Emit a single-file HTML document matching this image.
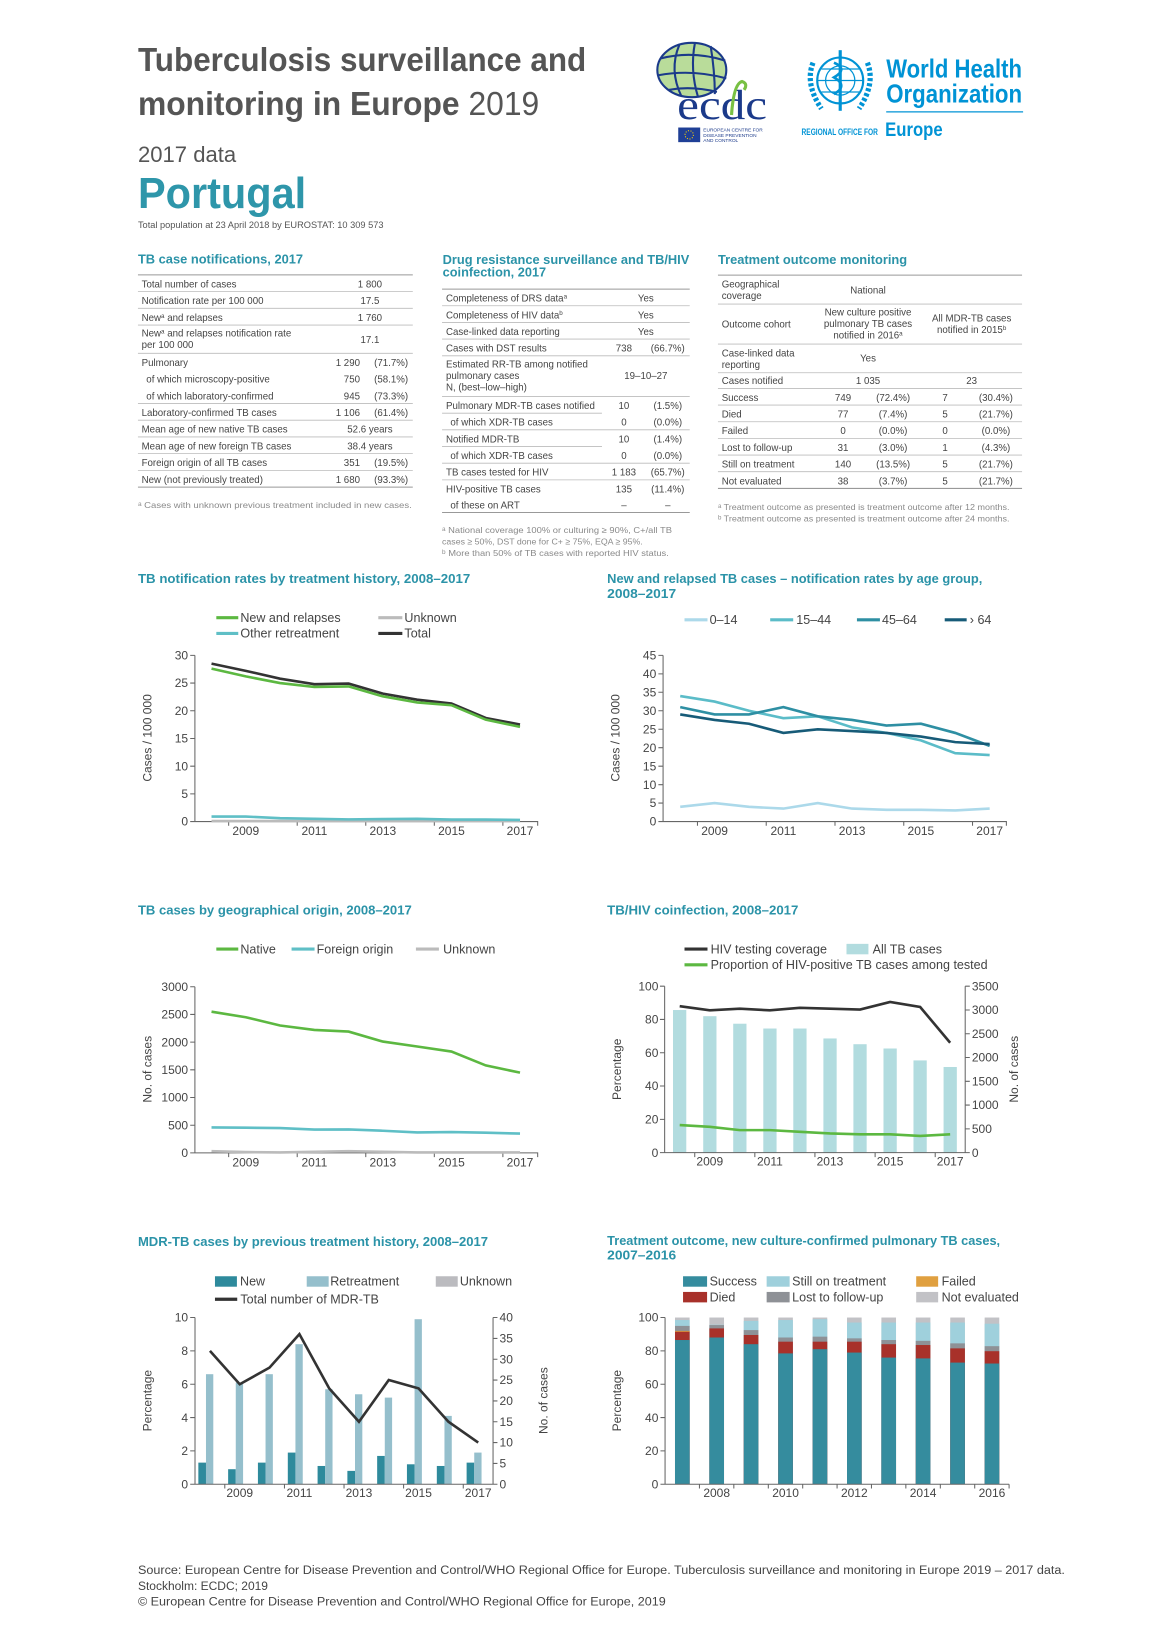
<!DOCTYPE html>
<html><head><meta charset="utf-8"><style>
html,body{margin:0;padding:0;background:#fff;width:1160px;height:1640px;overflow:hidden}
svg{display:block;font-family:"Liberation Sans",sans-serif}
.t{fill:#2b93a8;font-weight:bold;font-size:12.5px}
.tb{font-size:9.3px;fill:#444}
.fn{font-size:8.3px;fill:#8a8a8a}
.lg{font-size:12px;fill:#444}
.tk{font-size:11.5px;fill:#444}
.ax{stroke:#666;stroke-width:1;fill:none}
.hl{stroke:#bbb;stroke-width:0.8}
.hl2{stroke:#999;stroke-width:1}
</style></head><body>
<svg width="1160" height="1640" viewBox="0 0 1110 1569" preserveAspectRatio="none">
<!-- Header -->
<text x="132" y="68" font-size="32" font-weight="bold" fill="#555" textLength="429" lengthAdjust="spacingAndGlyphs">Tuberculosis surveillance and</text>
<text x="132" y="110" font-size="32" fill="#555" textLength="384" lengthAdjust="spacingAndGlyphs"><tspan font-weight="bold">monitoring in Europe</tspan> 2019</text>
<text x="132" y="155" font-size="21" fill="#555" textLength="94" lengthAdjust="spacingAndGlyphs">2017 data</text>
<text x="132" y="199" font-size="42" font-weight="bold" fill="#2e96aa" textLength="161" lengthAdjust="spacingAndGlyphs">Portugal</text>
<text x="132" y="218" font-size="9" fill="#555" textLength="235" lengthAdjust="spacingAndGlyphs">Total population at 23 April 2018 by EUROSTAT: 10 309 573</text>

<!-- ECDC logo -->
<ellipse cx="662" cy="67" rx="33" ry="26" fill="#b9dc9a" stroke="#1b3a8a" stroke-width="2"/>
<path d="M632 56 Q662 48 694 58 M630 72 Q662 66 695 75 M640 86 Q662 82 686 88 M650 43 Q640 67 652 92 M665 41 Q660 67 668 93 M680 44 Q684 68 684 90" stroke="#1b3a8a" stroke-width="2" fill="none"/>
<text x="648" y="114" font-family="Liberation Serif,serif" font-size="40" fill="#1b3a8a" textLength="86" lengthAdjust="spacingAndGlyphs">ecdc</text>
<path d="M700 110 Q702 80 710 78 Q716 80 712 86" stroke="#78c043" stroke-width="3" fill="none"/>
<rect x="649" y="122" width="21" height="14" fill="#1f3f96"/>
<circle cx="659.5" cy="129" r="4" fill="none" stroke="#ffd400" stroke-width="1" stroke-dasharray="1 1.5"/>
<text x="673" y="126" font-size="4.6" fill="#1b3a8a">EUROPEAN CENTRE FOR</text>
<text x="673" y="131" font-size="4.6" fill="#1b3a8a">DISEASE PREVENTION</text>
<text x="673" y="136" font-size="4.6" fill="#1b3a8a">AND CONTROL</text>

<!-- WHO logo -->
<g stroke="#0093d5" fill="none">
<circle cx="804" cy="77" r="22" stroke-width="2"/>
<circle cx="804" cy="77" r="14" stroke-width="1.2"/>
<path d="M782 77 H826 M804 55 V99 M786 66 H822 M786 88 H822" stroke-width="1.2"/>
<path d="M778 60 Q770 80 786 104 M830 60 Q838 80 822 104" stroke-width="5" stroke-dasharray="3 2"/>
<path d="M804 48 V106" stroke-width="3"/>
<path d="M798 60 Q812 66 798 74 Q812 82 798 90" stroke-width="2.5"/>
</g>
<text x="848" y="74" font-size="25" font-weight="bold" fill="#0093d5" textLength="130" lengthAdjust="spacingAndGlyphs">World Health</text>
<text x="848" y="98" font-size="25" font-weight="bold" fill="#0093d5" textLength="130" lengthAdjust="spacingAndGlyphs">Organization</text>
<line x1="848" y1="107" x2="979" y2="107" stroke="#0093d5" stroke-width="1.2"/>
<text x="767" y="129" font-size="9" font-weight="bold" fill="#0093d5" textLength="73" lengthAdjust="spacingAndGlyphs">REGIONAL OFFICE FOR</text>
<text x="847" y="130" font-size="19" font-weight="bold" fill="#0093d5" textLength="55" lengthAdjust="spacingAndGlyphs">Europe</text>

<!-- Table 1 -->
<text class="t" x="132" y="252" textLength="158" lengthAdjust="spacingAndGlyphs">TB case notifications, 2017</text>
<g>
<line class="hl2" x1="132" y1="263" x2="395" y2="263"/>
<line class="hl" x1="132" y1="279" x2="395" y2="279"/><line class="hl" x1="132" y1="295" x2="395" y2="295"/><line class="hl" x1="132" y1="311" x2="395" y2="311"/><line class="hl" x1="132" y1="338" x2="395" y2="338"/><line class="hl" x1="132" y1="386" x2="395" y2="386"/><line class="hl" x1="132" y1="402" x2="395" y2="402"/><line class="hl" x1="132" y1="418" x2="395" y2="418"/><line class="hl" x1="132" y1="434" x2="395" y2="434"/><line class="hl" x1="132" y1="450" x2="395" y2="450"/><line class="hl2" x1="132" y1="466" x2="395" y2="466"/>
<text class="tb" x="135.5" y="275">Total number of cases</text><text class="tb" x="354" y="275" text-anchor="middle">1 800</text>
<text class="tb" x="135.5" y="291">Notification rate per 100 000</text><text class="tb" x="354" y="291" text-anchor="middle">17.5</text>
<text class="tb" x="135.5" y="307">New<tspan font-size="6" dy="-3">a</tspan><tspan dy="3"> and relapses</tspan></text><text class="tb" x="354" y="307" text-anchor="middle">1 760</text>
<text class="tb" x="135.5" y="322">New<tspan font-size="6" dy="-3">a</tspan><tspan dy="3"> and relapses notification rate</tspan></text><text class="tb" x="135.5" y="333">per 100 000</text><text class="tb" x="354" y="328" text-anchor="middle">17.1</text>
<text class="tb" x="135.5" y="350">Pulmonary</text><text class="tb" x="344.5" y="350" text-anchor="end">1 290</text><text class="tb" x="390.5" y="350" text-anchor="end">(71.7%)</text>
<text class="tb" x="140" y="366">of which microscopy-positive</text><text class="tb" x="344.5" y="366" text-anchor="end">750</text><text class="tb" x="390.5" y="366" text-anchor="end">(58.1%)</text>
<text class="tb" x="140" y="382">of which laboratory-confirmed</text><text class="tb" x="344.5" y="382" text-anchor="end">945</text><text class="tb" x="390.5" y="382" text-anchor="end">(73.3%)</text>
<text class="tb" x="135.5" y="398">Laboratory-confirmed TB cases</text><text class="tb" x="344.5" y="398" text-anchor="end">1 106</text><text class="tb" x="390.5" y="398" text-anchor="end">(61.4%)</text>
<text class="tb" x="135.5" y="414">Mean age of new native TB cases</text><text class="tb" x="354" y="414" text-anchor="middle">52.6 years</text>
<text class="tb" x="135.5" y="430">Mean age of new foreign TB cases</text><text class="tb" x="354" y="430" text-anchor="middle">38.4 years</text>
<text class="tb" x="135.5" y="446">Foreign origin of all TB cases</text><text class="tb" x="344.5" y="446" text-anchor="end">351</text><text class="tb" x="390.5" y="446" text-anchor="end">(19.5%)</text>
<text class="tb" x="135.5" y="462">New (not previously treated)</text><text class="tb" x="344.5" y="462" text-anchor="end">1 680</text><text class="tb" x="390.5" y="462" text-anchor="end">(93.3%)</text>
<text class="fn" x="132" y="486" textLength="262" lengthAdjust="spacingAndGlyphs">ᵃ Cases with unknown previous treatment included in new cases.</text>
</g>

<!-- Table 2 -->
<text class="t" x="423.6" y="252.6" textLength="236" lengthAdjust="spacingAndGlyphs">Drug resistance surveillance and TB/HIV</text>
<text class="t" x="423.6" y="264.7" textLength="99" lengthAdjust="spacingAndGlyphs">coinfection, 2017</text>
<g>
<line class="hl2" x1="423" y1="276.6" x2="660" y2="276.6"/>
<line class="hl" x1="423" y1="292.5" x2="660" y2="292.5"/><line class="hl" x1="423" y1="308.5" x2="660" y2="308.5"/><line class="hl" x1="423" y1="324.4" x2="660" y2="324.4"/><line class="hl" x1="423" y1="340.4" x2="660" y2="340.4"/><line class="hl" x1="423" y1="379.3" x2="660" y2="379.3"/><line class="hl" x1="423" y1="395.3" x2="576" y2="395.3"/><line class="hl" x1="423" y1="411.2" x2="660" y2="411.2"/><line class="hl" x1="423" y1="427.2" x2="576" y2="427.2"/><line class="hl" x1="423" y1="443.1" x2="660" y2="443.1"/><line class="hl" x1="423" y1="459.1" x2="660" y2="459.1"/><line class="hl2" x1="423" y1="490.3" x2="660" y2="490.3"/>
<text class="tb" x="426.8" y="288.5">Completeness of DRS data<tspan font-size="6" dy="-3">a</tspan></text><text class="tb" x="618" y="288.5" text-anchor="middle">Yes</text>
<text class="tb" x="426.8" y="304.5">Completeness of HIV data<tspan font-size="6" dy="-3">b</tspan></text><text class="tb" x="618" y="304.5" text-anchor="middle">Yes</text>
<text class="tb" x="426.8" y="320.4">Case-linked data reporting</text><text class="tb" x="618" y="320.4" text-anchor="middle">Yes</text>
<text class="tb" x="426.8" y="336.4">Cases with DST results</text><text class="tb" x="597" y="336.4" text-anchor="middle">738</text><text class="tb" x="639" y="336.4" text-anchor="middle">(66.7%)</text>
<text class="tb" x="426.8" y="351.5">Estimated RR-TB among notified</text><text class="tb" x="426.8" y="362.5">pulmonary cases</text><text class="tb" x="426.8" y="373.5">N, (best–low–high)</text><text class="tb" x="618" y="362.5" text-anchor="middle">19–10–27</text>
<text class="tb" x="426.8" y="391.3">Pulmonary MDR-TB cases notified</text><text class="tb" x="597" y="391.3" text-anchor="middle">10</text><text class="tb" x="639" y="391.3" text-anchor="middle">(1.5%)</text>
<text class="tb" x="431" y="407.2">of which XDR-TB cases</text><text class="tb" x="597" y="407.2" text-anchor="middle">0</text><text class="tb" x="639" y="407.2" text-anchor="middle">(0.0%)</text>
<text class="tb" x="426.8" y="423.2">Notified MDR-TB</text><text class="tb" x="597" y="423.2" text-anchor="middle">10</text><text class="tb" x="639" y="423.2" text-anchor="middle">(1.4%)</text>
<text class="tb" x="431" y="439.1">of which XDR-TB cases</text><text class="tb" x="597" y="439.1" text-anchor="middle">0</text><text class="tb" x="639" y="439.1" text-anchor="middle">(0.0%)</text>
<text class="tb" x="426.8" y="455.1">TB cases tested for HIV</text><text class="tb" x="597" y="455.1" text-anchor="middle">1 183</text><text class="tb" x="639" y="455.1" text-anchor="middle">(65.7%)</text>
<text class="tb" x="426.8" y="471">HIV-positive TB cases</text><text class="tb" x="597" y="471" text-anchor="middle">135</text><text class="tb" x="639" y="471" text-anchor="middle">(11.4%)</text>
<text class="tb" x="431" y="486.5">of these on ART</text><text class="tb" x="597" y="486.5" text-anchor="middle">–</text><text class="tb" x="639" y="486.5" text-anchor="middle">–</text>
<text class="fn" x="423" y="510" textLength="220" lengthAdjust="spacingAndGlyphs">ᵃ National coverage 100% or culturing ≥ 90%, C+/all TB</text>
<text class="fn" x="423" y="521" textLength="192" lengthAdjust="spacingAndGlyphs">cases ≥ 50%, DST done for C+ ≥ 75%, EQA ≥ 95%.</text>
<text class="fn" x="423" y="532" textLength="217" lengthAdjust="spacingAndGlyphs">ᵇ More than 50% of TB cases with reported HIV status.</text>
</g>

<!-- Table 3 -->
<text class="t" x="687" y="252.6" textLength="181" lengthAdjust="spacingAndGlyphs">Treatment outcome monitoring</text>
<g>
<line class="hl2" x1="687" y1="263.2" x2="978" y2="263.2"/>
<line class="hl" x1="687" y1="290.9" x2="978" y2="290.9"/><line class="hl" x1="687" y1="329.2" x2="978" y2="329.2"/><line class="hl" x1="687" y1="356.6" x2="978" y2="356.6"/><line class="hl" x1="687" y1="371.6" x2="978" y2="371.6"/><line class="hl" x1="687" y1="387.5" x2="978" y2="387.5"/><line class="hl" x1="687" y1="403.5" x2="978" y2="403.5"/><line class="hl" x1="687" y1="419.4" x2="978" y2="419.4"/><line class="hl" x1="687" y1="435.4" x2="978" y2="435.4"/><line class="hl" x1="687" y1="451.3" x2="978" y2="451.3"/><line class="hl2" x1="687" y1="467.3" x2="978" y2="467.3"/>
<text class="tb" x="690.6" y="275">Geographical</text><text class="tb" x="690.6" y="286">coverage</text><text class="tb" x="830.6" y="281" text-anchor="middle">National</text>
<text class="tb" x="690.6" y="313.5">Outcome cohort</text>
<text class="tb" x="830.6" y="302" text-anchor="middle">New culture positive</text><text class="tb" x="830.6" y="313" text-anchor="middle">pulmonary TB cases</text><text class="tb" x="830.6" y="324" text-anchor="middle">notified in 2016<tspan font-size="6" dy="-3">a</tspan></text>
<text class="tb" x="929.8" y="307.5" text-anchor="middle">All MDR-TB cases</text><text class="tb" x="929.8" y="318.5" text-anchor="middle">notified in 2015<tspan font-size="6" dy="-3">b</tspan></text>
<text class="tb" x="690.6" y="341">Case-linked data</text><text class="tb" x="690.6" y="352">reporting</text><text class="tb" x="830.6" y="346" text-anchor="middle">Yes</text>
<text class="tb" x="690.6" y="367.5">Cases notified</text><text class="tb" x="830.6" y="367.5" text-anchor="middle">1 035</text><text class="tb" x="929.8" y="367.5" text-anchor="middle">23</text>
<text class="tb" x="690.6" y="383.5">Success</text><text class="tb" x="806.7" y="383.5" text-anchor="middle">749</text><text class="tb" x="854.6" y="383.5" text-anchor="middle">(72.4%)</text><text class="tb" x="904.3" y="383.5" text-anchor="middle">7</text><text class="tb" x="953" y="383.5" text-anchor="middle">(30.4%)</text>
<text class="tb" x="690.6" y="399.5">Died</text><text class="tb" x="806.7" y="399.5" text-anchor="middle">77</text><text class="tb" x="854.6" y="399.5" text-anchor="middle">(7.4%)</text><text class="tb" x="904.3" y="399.5" text-anchor="middle">5</text><text class="tb" x="953" y="399.5" text-anchor="middle">(21.7%)</text>
<text class="tb" x="690.6" y="415.4">Failed</text><text class="tb" x="806.7" y="415.4" text-anchor="middle">0</text><text class="tb" x="854.6" y="415.4" text-anchor="middle">(0.0%)</text><text class="tb" x="904.3" y="415.4" text-anchor="middle">0</text><text class="tb" x="953" y="415.4" text-anchor="middle">(0.0%)</text>
<text class="tb" x="690.6" y="431.4">Lost to follow-up</text><text class="tb" x="806.7" y="431.4" text-anchor="middle">31</text><text class="tb" x="854.6" y="431.4" text-anchor="middle">(3.0%)</text><text class="tb" x="904.3" y="431.4" text-anchor="middle">1</text><text class="tb" x="953" y="431.4" text-anchor="middle">(4.3%)</text>
<text class="tb" x="690.6" y="447.3">Still on treatment</text><text class="tb" x="806.7" y="447.3" text-anchor="middle">140</text><text class="tb" x="854.6" y="447.3" text-anchor="middle">(13.5%)</text><text class="tb" x="904.3" y="447.3" text-anchor="middle">5</text><text class="tb" x="953" y="447.3" text-anchor="middle">(21.7%)</text>
<text class="tb" x="690.6" y="463.3">Not evaluated</text><text class="tb" x="806.7" y="463.3" text-anchor="middle">38</text><text class="tb" x="854.6" y="463.3" text-anchor="middle">(3.7%)</text><text class="tb" x="904.3" y="463.3" text-anchor="middle">5</text><text class="tb" x="953" y="463.3" text-anchor="middle">(21.7%)</text>
<text class="fn" x="687" y="488" textLength="279" lengthAdjust="spacingAndGlyphs">ᵃ Treatment outcome as presented is treatment outcome after 12 months.</text>
<text class="fn" x="687" y="499" textLength="279" lengthAdjust="spacingAndGlyphs">ᵇ Treatment outcome as presented is treatment outcome after 24 months.</text>
</g>

<!-- Chart 1 -->
<text class="t" x="132" y="558" textLength="318" lengthAdjust="spacingAndGlyphs">TB notification rates by treatment history, 2008–2017</text>
<line x1="207" y1="591" x2="228" y2="591" stroke="#5cb841" stroke-width="3"/><text class="lg" x="230" y="595">New and relapses</text>
<line x1="362" y1="591" x2="385" y2="591" stroke="#bbb" stroke-width="3"/><text class="lg" x="387" y="595">Unknown</text>
<line x1="207" y1="606" x2="228" y2="606" stroke="#5fbfc6" stroke-width="3"/><text class="lg" x="230" y="610">Other retreatment</text>
<line x1="362" y1="606" x2="385" y2="606" stroke="#333" stroke-width="3"/><text class="lg" x="387" y="610">Total</text>
<path class="ax" d="M186.5 627 V786 H515 M182 627 H186.5 M182 653.5 H186.5 M182 680 H186.5 M182 706.5 H186.5 M182 733 H186.5 M182 759.5 H186.5 M182 786 H186.5 M218.8 786 V790 M284.4 786 V790 M350 786 V790 M415.6 786 V790 M481.2 786 V790 M514.5 786 V790"/>
<g class="tk" text-anchor="end"><text x="180" y="790">0</text><text x="180" y="763.5">5</text><text x="180" y="737">10</text><text x="180" y="710.5">15</text><text x="180" y="684">20</text><text x="180" y="657.5">25</text><text x="180" y="631">30</text></g>
<g class="tk" text-anchor="middle"><text x="235.2" y="799">2009</text><text x="300.8" y="799">2011</text><text x="366.4" y="799">2013</text><text x="432" y="799">2015</text><text x="497.6" y="799">2017</text></g>
<text class="tk" transform="translate(145,706) rotate(-90)" text-anchor="middle">Cases / 100 000</text>
<polyline fill="none" stroke="#bbb" stroke-width="2.5" points="202.4,785.5 497.6,785.5"/>
<polyline fill="none" stroke="#5fbfc6" stroke-width="2.5" points="202.4,781.2 235.2,781.2 268,782.8 300.8,783.4 333.6,783.9 366.4,783.6 399.2,783.4 432,784.1 464.8,784.1 497.6,784.4"/>
<polyline fill="none" stroke="#333" stroke-width="2.5" points="202.4,634.9 235.2,641.8 268,649.3 300.8,654.6 333.6,654 366.4,663.6 399.2,669.4 432,673.1 464.8,686.9 497.6,693.2"/>
<polyline fill="none" stroke="#5cb841" stroke-width="2.5" points="202.4,639.7 235.2,647.1 268,653.5 300.8,657.2 333.6,656.7 366.4,666.2 399.2,672 432,674.7 464.8,688.5 497.6,695.4"/>

<!-- Chart 2 -->
<text class="t" x="581" y="558" textLength="359" lengthAdjust="spacingAndGlyphs">New and relapsed TB cases – notification rates by age group,</text>
<text class="t" x="581" y="572" textLength="66" lengthAdjust="spacingAndGlyphs">2008–2017</text>
<line x1="655" y1="593" x2="677" y2="593" stroke="#acd9ea" stroke-width="3"/><text class="lg" x="679" y="597">0–14</text>
<line x1="737" y1="593" x2="759" y2="593" stroke="#5bbcc8" stroke-width="3"/><text class="lg" x="762" y="597">15–44</text>
<line x1="820" y1="593" x2="842" y2="593" stroke="#2e8fa3" stroke-width="3"/><text class="lg" x="844" y="597">45–64</text>
<line x1="904" y1="593" x2="925" y2="593" stroke="#175b78" stroke-width="3"/><text class="lg" x="928" y="597">› 64</text>
<path class="ax" d="M634.5 627 V786 H963.5 M630 627 H634.5 M630 644.7 H634.5 M630 662.3 H634.5 M630 680 H634.5 M630 697.7 H634.5 M630 715.3 H634.5 M630 733 H634.5 M630 750.7 H634.5 M630 768.3 H634.5 M630 786 H634.5 M667.4 786 V790 M733.2 786 V790 M799 786 V790 M864.8 786 V790 M930.6 786 V790 M963 786 V790"/>
<g class="tk" text-anchor="end"><text x="628" y="790">0</text><text x="628" y="772.3">5</text><text x="628" y="754.7">10</text><text x="628" y="737">15</text><text x="628" y="719.3">20</text><text x="628" y="701.7">25</text><text x="628" y="684">30</text><text x="628" y="666.3">35</text><text x="628" y="648.7">40</text><text x="628" y="631">45</text></g>
<g class="tk" text-anchor="middle"><text x="683.8" y="799">2009</text><text x="749.6" y="799">2011</text><text x="815.4" y="799">2013</text><text x="881.2" y="799">2015</text><text x="947" y="799">2017</text></g>
<text class="tk" transform="translate(593,706) rotate(-90)" text-anchor="middle">Cases / 100 000</text>
<polyline fill="none" stroke="#acd9ea" stroke-width="2.5" points="650.9,771.9 683.8,768.3 716.7,771.9 749.6,773.6 782.5,768.3 815.4,773.6 848.3,774.7 881.2,774.7 914.1,775.4 947,773.6"/>
<polyline fill="none" stroke="#5bbcc8" stroke-width="2.5" points="650.9,665.9 683.8,671.2 716.7,680 749.6,687.1 782.5,685.3 815.4,695.9 848.3,701.2 881.2,708.3 914.1,720.6 947,722.4"/>
<polyline fill="none" stroke="#2e8fa3" stroke-width="2.5" points="650.9,676.5 683.8,683.5 716.7,683.5 749.6,676.5 782.5,685.3 815.4,688.8 848.3,694.1 881.2,692.4 914.1,701.2 947,713.6"/>
<polyline fill="none" stroke="#175b78" stroke-width="2.5" points="650.9,683.5 683.8,688.8 716.7,692.4 749.6,701.2 782.5,697.7 815.4,699.4 848.3,701.2 881.2,704.7 914.1,710 947,711.8"/>

<!-- Chart 3 -->
<text class="t" x="132" y="875" textLength="262" lengthAdjust="spacingAndGlyphs">TB cases by geographical origin, 2008–2017</text>
<line x1="207" y1="908" x2="228" y2="908" stroke="#5cb841" stroke-width="3"/><text class="lg" x="230" y="912">Native</text>
<line x1="279" y1="908" x2="301" y2="908" stroke="#5fbfc6" stroke-width="3"/><text class="lg" x="303" y="912">Foreign origin</text>
<line x1="398" y1="908" x2="420" y2="908" stroke="#bbb" stroke-width="3"/><text class="lg" x="424" y="912">Unknown</text>
<path class="ax" d="M186.5 944 V1103 H515 M182 944 H186.5 M182 970.5 H186.5 M182 997 H186.5 M182 1023.5 H186.5 M182 1050 H186.5 M182 1076.5 H186.5 M182 1103 H186.5 M218.8 1103 V1107 M284.4 1103 V1107 M350 1103 V1107 M415.6 1103 V1107 M481.2 1103 V1107 M514.5 1103 V1107"/>
<g class="tk" text-anchor="end"><text x="180" y="1107">0</text><text x="180" y="1080.5">500</text><text x="180" y="1054">1000</text><text x="180" y="1027.5">1500</text><text x="180" y="1001">2000</text><text x="180" y="974.5">2500</text><text x="180" y="948">3000</text></g>
<g class="tk" text-anchor="middle"><text x="235.2" y="1116">2009</text><text x="300.8" y="1116">2011</text><text x="366.4" y="1116">2013</text><text x="432" y="1116">2015</text><text x="497.6" y="1116">2017</text></g>
<text class="tk" transform="translate(145,1023) rotate(-90)" text-anchor="middle">No. of cases</text>
<polyline fill="none" stroke="#bbb" stroke-width="2.5" points="202.4,1101.4 235.2,1102.2 268,1102.5 300.8,1101.9 333.6,1101.4 366.4,1101.9 399.2,1102.5 432,1102.5 464.8,1102.5 497.6,1102.5"/>
<polyline fill="none" stroke="#5fbfc6" stroke-width="2.5" points="202.4,1078.6 235.2,1078.9 268,1079.2 300.8,1080.7 333.6,1080.5 366.4,1081.8 399.2,1083.4 432,1083.1 464.8,1083.7 497.6,1084.5"/>
<polyline fill="none" stroke="#5cb841" stroke-width="2.5" points="202.4,967.9 235.2,973.2 268,981.1 300.8,985.3 333.6,986.9 366.4,996.5 399.2,1001.2 432,1006 464.8,1019.3 497.6,1026.2"/>

<!-- Chart 4 -->
<text class="t" x="581" y="875" textLength="183" lengthAdjust="spacingAndGlyphs">TB/HIV coinfection, 2008–2017</text>
<line x1="655" y1="908" x2="677" y2="908" stroke="#333" stroke-width="3"/><text class="lg" x="680" y="912">HIV testing coverage</text>
<rect x="810" y="903" width="21" height="10" fill="#b2dcdf"/><text class="lg" x="835" y="912">All TB cases</text>
<line x1="655" y1="923" x2="677" y2="923" stroke="#5cb841" stroke-width="3"/><text class="lg" x="680" y="927">Proportion of HIV-positive TB cases among tested</text>
<g fill="#b2dcdf">
<rect x="644" y="966.3" width="12.7" height="136.4"/><rect x="672.9" y="972.2" width="12.7" height="130.5"/><rect x="701.6" y="979.4" width="12.7" height="123.3"/><rect x="730.4" y="984" width="12.7" height="118.7"/><rect x="759.1" y="984" width="12.7" height="118.7"/><rect x="787.9" y="993.5" width="12.7" height="109.2"/><rect x="816.6" y="999" width="12.7" height="103.7"/><rect x="845.4" y="1003.1" width="12.7" height="99.6"/><rect x="874.1" y="1014.5" width="12.7" height="88.2"/><rect x="902.9" y="1020.8" width="12.7" height="81.9"/>
</g>
<path class="ax" d="M636 943.5 V1102.7 H923.6 V943.5 M631.5 943.5 H636 M631.5 975.3 H636 M631.5 1007.2 H636 M631.5 1039 H636 M631.5 1070.9 H636 M631.5 1102.7 H636 M923.6 943.5 H928 M923.6 966.3 H928 M923.6 989 H928 M923.6 1011.7 H928 M923.6 1034.5 H928 M923.6 1057.2 H928 M923.6 1080 H928 M923.6 1102.7 H928 M664.8 1102.7 V1107 M722.3 1102.7 V1107 M779.8 1102.7 V1107 M837.4 1102.7 V1107 M894.9 1102.7 V1107"/>
<g class="tk" text-anchor="end"><text x="630" y="1106.7">0</text><text x="630" y="1074.9">20</text><text x="630" y="1043">40</text><text x="630" y="1011.2">60</text><text x="630" y="979.3">80</text><text x="630" y="947.5">100</text></g>
<g class="tk"><text x="930" y="1106.7">0</text><text x="930" y="1084">500</text><text x="930" y="1061.2">1000</text><text x="930" y="1038.5">1500</text><text x="930" y="1015.7">2000</text><text x="930" y="993">2500</text><text x="930" y="970.3">3000</text><text x="930" y="947.5">3500</text></g>
<g class="tk" text-anchor="middle"><text x="679.2" y="1115">2009</text><text x="736.7" y="1115">2011</text><text x="794.2" y="1115">2013</text><text x="851.7" y="1115">2015</text><text x="909.2" y="1115">2017</text></g>
<text class="tk" transform="translate(594,1023) rotate(-90)" text-anchor="middle">Percentage</text>
<text class="tk" transform="translate(974,1023) rotate(-90)" text-anchor="middle">No. of cases</text>
<polyline fill="none" stroke="#333" stroke-width="2.5" points="650.4,962.6 679.2,966.6 707.9,965 736.7,966.6 765.4,964.2 794.2,965 823,965.8 851.7,958.6 880.5,963.4 909.2,997.6"/>
<polyline fill="none" stroke="#5cb841" stroke-width="2.5" points="650.4,1076.4 679.2,1078 707.9,1081.2 736.7,1081.2 765.4,1082.8 794.2,1084.4 823,1085.2 851.7,1085.2 880.5,1086.8 909.2,1085.2"/>

<!-- Chart 5 -->
<text class="t" x="132" y="1192" textLength="335" lengthAdjust="spacingAndGlyphs">MDR-TB cases by previous treatment history, 2008–2017</text>
<rect x="205.7" y="1221" width="21" height="10" fill="#2e8a9c"/><text class="lg" x="229.7" y="1230">New</text>
<rect x="293.5" y="1221" width="21" height="10" fill="#95bfcc"/><text class="lg" x="316" y="1230">Retreatment</text>
<rect x="417" y="1221" width="21" height="10" fill="#bbbbbf"/><text class="lg" x="440" y="1230">Unknown</text>
<line x1="205.7" y1="1243" x2="227" y2="1243" stroke="#333" stroke-width="3"/><text class="lg" x="230" y="1247">Total number of MDR-TB</text>
<g fill="#2e8a9c">
<rect x="189.8" y="1399.3" width="7.3" height="20.7"/><rect x="218.3" y="1405.6" width="7.3" height="14.4"/><rect x="246.8" y="1399.3" width="7.3" height="20.7"/><rect x="275.4" y="1389.7" width="7.3" height="30.3"/><rect x="303.9" y="1402.5" width="7.3" height="17.5"/><rect x="332.4" y="1407.2" width="7.3" height="12.8"/><rect x="360.9" y="1392.9" width="7.3" height="27.1"/><rect x="389.4" y="1400.9" width="7.3" height="19.1"/><rect x="418" y="1402.5" width="7.3" height="17.5"/><rect x="446.5" y="1399.3" width="7.3" height="20.7"/>
</g>
<g fill="#95bfcc">
<rect x="197.1" y="1314.7" width="7" height="105.3"/><rect x="225.6" y="1322.7" width="7" height="97.3"/><rect x="254.1" y="1314.7" width="7" height="105.3"/><rect x="282.7" y="1286" width="7" height="134"/><rect x="311.2" y="1329.1" width="7" height="90.9"/><rect x="339.7" y="1333.9" width="7" height="86.1"/><rect x="368.2" y="1337.1" width="7" height="82.9"/><rect x="396.7" y="1262.1" width="7" height="157.9"/><rect x="425.3" y="1354.6" width="7" height="65.4"/><rect x="453.8" y="1389.7" width="7" height="30.3"/>
</g>
<path class="ax" d="M186.6 1260.5 V1420 H471.8 V1260.5 M182 1260.5 H186.6 M182 1292.4 H186.6 M182 1324.3 H186.6 M182 1356.2 H186.6 M182 1388.1 H186.6 M182 1420 H186.6 M471.8 1260.5 H476 M471.8 1280.5 H476 M471.8 1300.4 H476 M471.8 1320.3 H476 M471.8 1340.3 H476 M471.8 1360.2 H476 M471.8 1380.1 H476 M471.8 1400.1 H476 M471.8 1420 H476 M215.1 1420 V1424 M272.2 1420 V1424 M329.2 1420 V1424 M386.2 1420 V1424 M443.3 1420 V1424"/>
<g class="tk" text-anchor="end"><text x="180" y="1424">0</text><text x="180" y="1392.1">2</text><text x="180" y="1360.2">4</text><text x="180" y="1328.3">6</text><text x="180" y="1296.4">8</text><text x="180" y="1264.5">10</text></g>
<g class="tk"><text x="478" y="1424">0</text><text x="478" y="1404.1">5</text><text x="478" y="1384.1">10</text><text x="478" y="1364.2">15</text><text x="478" y="1344.3">20</text><text x="478" y="1324.3">25</text><text x="478" y="1304.4">30</text><text x="478" y="1284.5">35</text><text x="478" y="1264.5">40</text></g>
<g class="tk" text-anchor="middle"><text x="229.4" y="1432">2009</text><text x="286.5" y="1432">2011</text><text x="343.5" y="1432">2013</text><text x="400.5" y="1432">2015</text><text x="457.6" y="1432">2017</text></g>
<text class="tk" transform="translate(145,1340) rotate(-90)" text-anchor="middle">Percentage</text>
<text class="tk" transform="translate(524,1340) rotate(-90)" text-anchor="middle">No. of cases</text>
<polyline fill="none" stroke="#333" stroke-width="2.5" points="200.9,1292.4 229.4,1324.3 257.9,1308.4 286.5,1276.4 315,1328.3 343.5,1360.2 372,1320.3 400.5,1328.3 429.1,1360.2 457.6,1380.1"/>

<!-- Chart 6 -->
<text class="t" x="581" y="1191" textLength="376" lengthAdjust="spacingAndGlyphs">Treatment outcome, new culture-confirmed pulmonary TB cases,</text>
<text class="t" x="581" y="1205" textLength="66" lengthAdjust="spacingAndGlyphs">2007–2016</text>
<rect x="653.6" y="1221" width="23" height="10" fill="#358c9e"/><text class="lg" x="679" y="1230">Success</text>
<rect x="733.6" y="1221" width="22" height="10" fill="#9fd0dc"/><text class="lg" x="758" y="1230">Still on treatment</text>
<rect x="876.7" y="1221" width="21" height="10" fill="#e0a040"/><text class="lg" x="901" y="1230">Failed</text>
<rect x="653.6" y="1236" width="23" height="10" fill="#a8312a"/><text class="lg" x="679" y="1245">Died</text>
<rect x="733.6" y="1236" width="22" height="10" fill="#8e9196"/><text class="lg" x="758" y="1245">Lost to follow-up</text>
<rect x="876.7" y="1236" width="21" height="10" fill="#c2c2c6"/><text class="lg" x="901" y="1245">Not evaluated</text>
<g>
<g fill="#c2c2c6"><rect x="645.9" y="1260.5" width="14" height="159.5"/><rect x="678.8" y="1260.5" width="14" height="159.5"/><rect x="711.7" y="1260.5" width="14" height="159.5"/><rect x="744.7" y="1260.5" width="14" height="159.5"/><rect x="777.6" y="1260.5" width="14" height="159.5"/><rect x="810.5" y="1260.5" width="14" height="159.5"/><rect x="843.4" y="1260.5" width="14" height="159.5"/><rect x="876.3" y="1260.5" width="14" height="159.5"/><rect x="909.3" y="1260.5" width="14" height="159.5"/><rect x="942.2" y="1260.5" width="14" height="159.5"/></g>
<g fill="#9fd0dc"><rect x="645.9" y="1262.9" width="14" height="157.1"/><rect x="678.8" y="1267.4" width="14" height="152.6"/><rect x="711.7" y="1263.7" width="14" height="156.3"/><rect x="744.7" y="1262.9" width="14" height="157.1"/><rect x="777.6" y="1262.1" width="14" height="157.9"/><rect x="810.5" y="1265.3" width="14" height="154.7"/><rect x="843.4" y="1265.3" width="14" height="154.7"/><rect x="876.3" y="1265.3" width="14" height="154.7"/><rect x="909.3" y="1265.3" width="14" height="154.7"/><rect x="942.2" y="1266.4" width="14" height="153.6"/></g>
<g fill="#8e9196"><rect x="645.9" y="1268.5" width="14" height="151.5"/><rect x="678.8" y="1267.7" width="14" height="152.3"/><rect x="711.7" y="1272.5" width="14" height="147.5"/><rect x="744.7" y="1279.6" width="14" height="140.4"/><rect x="777.6" y="1278.8" width="14" height="141.2"/><rect x="810.5" y="1280.4" width="14" height="139.6"/><rect x="843.4" y="1282" width="14" height="138"/><rect x="876.3" y="1282.8" width="14" height="137.2"/><rect x="909.3" y="1285.2" width="14" height="134.8"/><rect x="942.2" y="1287.9" width="14" height="132.1"/></g>
<rect x="645.9" y="1273.3" width="14" height="1" fill="#e0a040"/>
<g fill="#a8312a"><rect x="645.9" y="1274.1" width="14" height="145.9"/><rect x="678.8" y="1270.9" width="14" height="149.1"/><rect x="711.7" y="1277.2" width="14" height="142.8"/><rect x="744.7" y="1283.6" width="14" height="136.4"/><rect x="777.6" y="1283.6" width="14" height="136.4"/><rect x="810.5" y="1283.6" width="14" height="136.4"/><rect x="843.4" y="1286" width="14" height="134"/><rect x="876.3" y="1286.8" width="14" height="133.2"/><rect x="909.3" y="1290" width="14" height="130"/><rect x="942.2" y="1292.7" width="14" height="127.3"/></g>
<g fill="#358c9e"><rect x="645.9" y="1282" width="14" height="138"/><rect x="678.8" y="1279.6" width="14" height="140.4"/><rect x="711.7" y="1286" width="14" height="134"/><rect x="744.7" y="1294.8" width="14" height="125.2"/><rect x="777.6" y="1290.8" width="14" height="129.2"/><rect x="810.5" y="1294" width="14" height="126"/><rect x="843.4" y="1298.8" width="14" height="121.2"/><rect x="876.3" y="1299.6" width="14" height="120.4"/><rect x="909.3" y="1303.6" width="14" height="116.4"/><rect x="942.2" y="1304.5" width="14" height="115.5"/></g>
</g>
<path class="ax" d="M636.4 1260.5 V1420 H965.6 M632 1260.5 H636.4 M632 1292.4 H636.4 M632 1324.3 H636.4 M632 1356.2 H636.4 M632 1388.1 H636.4 M632 1420 H636.4 M669.3 1420 V1424 M702.2 1420 V1424 M735.2 1420 V1424 M768.1 1420 V1424 M801 1420 V1424 M833.9 1420 V1424 M866.8 1420 V1424 M899.8 1420 V1424 M932.7 1420 V1424 M965.6 1420 V1424"/>
<g class="tk" text-anchor="end"><text x="630" y="1424">0</text><text x="630" y="1392.1">20</text><text x="630" y="1360.2">40</text><text x="630" y="1328.3">60</text><text x="630" y="1296.4">80</text><text x="630" y="1264.5">100</text></g>
<g class="tk" text-anchor="middle"><text x="685.8" y="1432">2008</text><text x="751.7" y="1432">2010</text><text x="817.5" y="1432">2012</text><text x="883.3" y="1432">2014</text><text x="949.2" y="1432">2016</text></g>
<text class="tk" transform="translate(594,1340) rotate(-90)" text-anchor="middle">Percentage</text>

<!-- Footer -->
<text x="132" y="1506" font-size="11.5" fill="#444" textLength="887" lengthAdjust="spacingAndGlyphs">Source: European Centre for Disease Prevention and Control/WHO Regional Office for Europe. Tuberculosis surveillance and monitoring in Europe 2019 – 2017 data.</text>
<text x="132" y="1521" font-size="11.5" fill="#444">Stockholm: ECDC; 2019</text>
<text x="132" y="1536" font-size="11.5" fill="#444" textLength="505" lengthAdjust="spacingAndGlyphs">© European Centre for Disease Prevention and Control/WHO Regional Office for Europe, 2019</text>
</svg>
</body></html>
